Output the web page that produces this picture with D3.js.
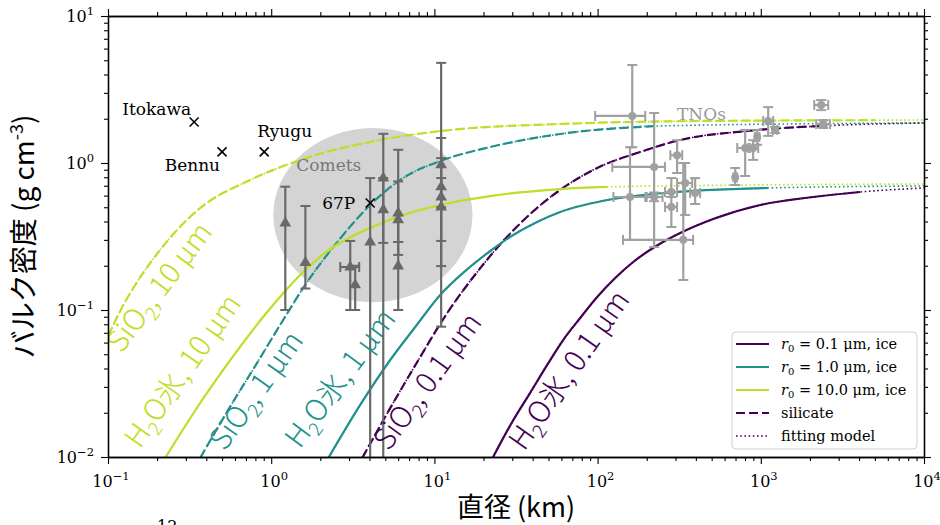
<!DOCTYPE html>
<html><head><meta charset="utf-8">
<script src="https://cdn.jsdelivr.net/npm/d3@7/dist/d3.min.js"></script>
<style>
body{margin:0;background:#fff;}
svg{display:block;}
text{font-family:"DejaVu Serif",serif;}
</style></head><body>
<svg id="chart" width="940" height="525"></svg>
<script>
// ================= DATA =================
const xTickValues = [0.1, 1, 10, 100, 1000, 10000];
const xTickExp    = ["−1", "0", "1", "2", "3", "4"];
const yTickValues = [0.01, 0.1, 1, 10];
const yTickExp    = ["−2", "−1", "0", "1"];

const grainSizes   = ["0.1", "1.0", "10.0"];
const seriesColors = ["#440154", "#21918c", "#bddf26"];

// model curves: [diameter km, bulk density g cm^-3]
const ice01 = [[22.9,0.0100],[29.97,0.0173],[38.6,0.0273],[49.1,0.0423],[61.5,0.0625],[78.2,0.0882],[99.4,0.1226],[128.2,0.1651],[165.2,0.2121],[228.6,0.2725],[320.7,0.334],[510.8,0.416],[991.5,0.518],[2095,0.587],[4065,0.635],[10000,0.676]];
const ice1  = [[2.24,0.00984],[3.51,0.0226],[5.36,0.0457],[7.63,0.0766],[10.85,0.1265],[15.44,0.184],[22.0,0.252],[30.4,0.3237],[42.6,0.397],[59.0,0.464],[124.7,0.569],[252,0.625],[1110,0.676],[10000,0.698]];
const ice10 = [[0.224,0.00984],[0.367,0.0233],[0.585,0.0486],[0.945,0.0969],[1.505,0.173],[2.30,0.260],[4.04,0.361],[6.17,0.436],[10.85,0.518],[22.0,0.596],[59.0,0.665],[114.5,0.687],[425,0.703],[10000,0.72]];
const sil01 = [[3.61,0.00984],[5.36,0.0215],[7.85,0.0443],[11.65,0.0910],[18.3,0.1814],[26.4,0.2946],[38.6,0.4497],[56.6,0.635],[99.4,0.925],[182.4,1.188],[320.7,1.434],[825,1.651],[2312,1.785],[10000,1.872]];
const sil1  = [[0.367,0.00984],[0.545,0.0209],[0.798,0.0416],[1.184,0.0855],[1.615,0.148],[2.54,0.290],[4.04,0.518],[6.44,0.791],[11.32,1.048],[22.0,1.285],[59.0,1.575],[232,1.785],[10000,1.872]];
const sil10 = [[0.1003,0.0665],[0.1188,0.0985],[0.1468,0.148],[0.1814,0.2088],[0.2581,0.3394],[0.3672,0.494],[0.7436,0.766],[1.505,1.048],[4.655,1.434],[12.5,1.677],[59.0,1.842],[425,1.931],[5000,1.955],[10000,1.961]];
const iceModelEnd = [4065, 1110, 114.5];   // where the computed curve stops, fitting model continues
const silModelEnd = [2312, 232, 5000];

// comets
const cometD   = [1.22, 1.62, 3.05, 3.27, 4.04, 4.86, 4.86, 6.0, 6.0, 6.0, 11.0, 11.0, 11.0, 11.0];
const cometRho = [0.39, 0.21, 0.196, 0.148, 0.29, 0.79, 0.48, 0.457, 0.41, 0.199, 0.97, 0.687, 0.587, 0.502];
const cometLo  = [0.10, 0.14, 0.10, 0.10, 0.005, 0.286, 0.005, 0.29, 0.237, 0.10, 0.50, 0.295, 0.199, 0.077];
const cometHi  = [0.69, 0.51, 0.295, 0.20, 0.79, 1.58, 0.79, 1.23, 0.75, 0.29, 4.8, 1.48, 1.08, 0.79];
const cometDLo = [null, null, 2.65, null, null, null, null, null, null, null, null, null, null, null];
const cometDHi = [null, null, 3.46, null, null, null, null, null, null, null, null, null, null, null];
const cometRegionD   = [1.03, 17.1];
const cometRegionRho = [0.113, 1.73];
const comet67P = [4.04, 0.534];

// TNOs
const tnoD   = [163, 158, 222, 222, 307, 283, 283, 344, 396, 335, 697, 802, 898, 950, 1110, 1225, 2345, 2410];
const tnoRho = [2.09, 0.587, 0.94, 0.587, 1.13, 0.635, 0.502, 0.731, 0.625, 0.30, 0.80, 1.265, 1.265, 1.50, 1.93, 1.68, 2.48, 1.84];
const tnoLo  = [1.28, 0.30, 0.268, 0.55, 0.855, 0.587, 0.367, 0.443, 0.526, 0.16, 0.708, 0.816, 1.05, 1.33, 1.53, 1.60, 2.29, 1.73];
const tnoHi  = [4.64, 1.28, 2.19, 0.63, 1.43, 0.79, 0.587, 1.0, 0.79, 1.0, 0.925, 1.68, 1.43, 1.68, 2.40, 1.76, 2.68, 1.96];
const tnoDLo = [96.6, 125, 123, 200, 279, 259, 259, 307, 369, 143, 680, 717, 837, 920, 1035, 1190, 2125, 2185];
const tnoDHi = [196, 196, 259, 250, 330, 307, 307, 380, 425, 385, 715, 861, 964, 980, 1191, 1260, 2589, 2652];

// asteroids
const asteroidNames = ["Itokawa", "Bennu", "Ryugu"];
const asteroidD     = [0.337, 0.50, 0.906];
const asteroidRho   = [1.90, 1.19, 1.19];

// ================= LAYOUT =================
const M = {left:108, right:924, top:16, bottom:457};
const svg = d3.select("#chart");
const x = d3.scaleLog().domain([0.1, 1e4]).range([M.left, M.right]);
const y = d3.scaleLog().domain([0.01, 10]).range([M.bottom, M.top]);

svg.append("defs").append("clipPath").attr("id","plotclip")
  .append("rect").attr("x",M.left).attr("y",M.top)
  .attr("width",M.right-M.left).attr("height",M.bottom-M.top);

const plot = svg.append("g").attr("clip-path","url(#plotclip)");

// comet region
plot.append("ellipse")
  .attr("cx",(x(cometRegionD[0])+x(cometRegionD[1]))/2)
  .attr("cy",(y(cometRegionRho[0])+y(cometRegionRho[1]))/2)
  .attr("rx",(x(cometRegionD[1])-x(cometRegionD[0]))/2)
  .attr("ry",(y(cometRegionRho[0])-y(cometRegionRho[1]))/2)
  .attr("fill","#d4d4d4");

const line = d3.line().x(d=>x(d[0])).y(d=>y(d[1])).curve(d3.curveMonotoneX);
const iceSeries = [ice01, ice1, ice10];
const silSeries = [sil01, sil1, sil10];

// fitting-model dotted (full range underneath)
[...iceSeries, ...silSeries].forEach((s,i)=>{
  plot.append("path").attr("d",line(s)).attr("fill","none")
    .attr("stroke",seriesColors[i%3]).attr("stroke-width",1.6)
    .attr("stroke-dasharray","1.6,2.6");
});
// silicate dashed
silSeries.forEach((s,i)=>{
  plot.append("path").attr("d",line(s.filter(p=>p[0]<=silModelEnd[i]))).attr("fill","none")
    .attr("stroke",seriesColors[i]).attr("stroke-width",2.2)
    .attr("stroke-dasharray","9,4");
});
// ice solid
iceSeries.forEach((s,i)=>{
  plot.append("path").attr("d",line(s.filter(p=>p[0]<=iceModelEnd[i]))).attr("fill","none")
    .attr("stroke",seriesColors[i]).attr("stroke-width",2.2);
});

// comets
const cometColor = "#696969";
const cg = plot.append("g");
cometD.forEach((D,i)=>{
  const cx = x(D), cy = y(cometRho[i]);
  const yl = y(Math.max(cometLo[i],0.004)), yh = y(cometHi[i]);
  cg.append("line").attr("x1",cx).attr("x2",cx).attr("y1",yl).attr("y2",yh)
    .attr("stroke",cometColor).attr("stroke-width",2.2);
  [cometLo[i], cometHi[i]].forEach(v=>{
    if (v >= 0.01) cg.append("line").attr("x1",cx-5).attr("x2",cx+5).attr("y1",y(v)).attr("y2",y(v))
      .attr("stroke",cometColor).attr("stroke-width",2);
  });
  if (cometDLo[i] !== null) {
    cg.append("line").attr("x1",x(cometDLo[i])).attr("x2",x(cometDHi[i])).attr("y1",cy).attr("y2",cy)
      .attr("stroke",cometColor).attr("stroke-width",2.2);
    [cometDLo[i], cometDHi[i]].forEach(v=>{
      cg.append("line").attr("x1",x(v)).attr("x2",x(v)).attr("y1",cy-5).attr("y2",cy+5)
        .attr("stroke",cometColor).attr("stroke-width",2);
    });
  }
});
cometD.forEach((D,i)=>{
  cg.append("path").attr("d",d3.symbol(d3.symbolTriangle).size(60)())
    .attr("transform",`translate(${x(D)},${y(cometRho[i])})`).attr("fill",cometColor);
});

// TNOs
const tnoColor = "#a0a0a0";
const tg = plot.append("g");
tnoD.forEach((D,i)=>{
  const cx = x(D), cy = y(tnoRho[i]);
  tg.append("line").attr("x1",cx).attr("x2",cx).attr("y1",y(tnoLo[i])).attr("y2",y(tnoHi[i]))
    .attr("stroke",tnoColor).attr("stroke-width",2.2);
  tg.append("line").attr("x1",x(tnoDLo[i])).attr("x2",x(tnoDHi[i])).attr("y1",cy).attr("y2",cy)
    .attr("stroke",tnoColor).attr("stroke-width",2.2);
  [tnoLo[i], tnoHi[i]].forEach(v=>{
    tg.append("line").attr("x1",cx-5).attr("x2",cx+5).attr("y1",y(v)).attr("y2",y(v))
      .attr("stroke",tnoColor).attr("stroke-width",2);
  });
  [tnoDLo[i], tnoDHi[i]].forEach(v=>{
    tg.append("line").attr("x1",x(v)).attr("x2",x(v)).attr("y1",cy-5).attr("y2",cy+5)
      .attr("stroke",tnoColor).attr("stroke-width",2);
  });
});
tnoD.forEach((D,i)=>{
  tg.append("circle").attr("cx",x(D)).attr("cy",y(tnoRho[i])).attr("r",4).attr("fill",tnoColor);
});

// asteroid & 67P crosses
function cross(g, D, rho){
  const cx = x(D), cy = y(rho), s = 4.5;
  g.append("path").attr("d",`M${cx-s},${cy-s}L${cx+s},${cy+s}M${cx-s},${cy+s}L${cx+s},${cy-s}`)
    .attr("stroke","#000").attr("stroke-width",1.6).attr("fill","none");
}
asteroidD.forEach((D,i)=>cross(plot, D, asteroidRho[i]));
cross(plot, comet67P[0], comet67P[1]);

// text annotations
const ann = svg.append("g").attr("font-size",17);
const astOffsets = [[-3,-7,"end"],[-2,19,"end"],[-7,-15,"start"]];
asteroidNames.forEach((n,i)=>{
  ann.append("text").attr("x",x(asteroidD[i])+astOffsets[i][0]).attr("y",y(asteroidRho[i])+astOffsets[i][1])
    .attr("text-anchor",astOffsets[i][2]).attr("fill","#000").text(n);
});
ann.append("text").attr("x",x(comet67P[0])-48).attr("y",y(comet67P[1])+6).attr("fill","#000").text("67P");
ann.append("text").attr("x",x(cometRegionD[0])+23).attr("y",171).attr("fill","#777").text("Comets");
ann.append("text").attr("x",677).attr("y",120).attr("fill","#999").text("TNOs");

// rotated curve labels
const curveLabels = [
  {parts:["SiO","2",", 10 μm"], c:2, D:0.121, rho:0.050, a:-53},
  {parts:["H","2","O氷, 10 μm"], c:2, D:0.157, rho:0.0112, a:-55},
  {parts:["SiO","2",", 1 μm"], c:1, D:0.52, rho:0.0108, a:-54.5},
  {parts:["H","2","O氷, 1 μm"], c:1, D:1.50, rho:0.0112, a:-53.5},
  {parts:["SiO","2",", 0.1 μm"], c:0, D:5.25, rho:0.0108, a:-54},
  {parts:["H","2","O氷, 0.1 μm"], c:0, D:35.5, rho:0.0108, a:-55}
];
curveLabels.forEach(l=>{
  const t = svg.append("text")
    .attr("transform",`translate(${x(l.D)},${y(l.rho)}) rotate(${l.a})`)
    .attr("fill",seriesColors[l.c]).attr("font-size",29.5)
    .style("font-family","'Noto Sans CJK JP','Noto Sans',sans-serif").style("font-weight",300);
  t.append("tspan").text(l.parts[0]);
  t.append("tspan").attr("font-size",19).attr("dy",7).text(l.parts[1]);
  t.append("tspan").attr("dy",-7).text(l.parts[2]);
});

// ================= AXES =================
const minorX = [], minorY = [];
for (let e=-1;e<4;e++) for (let m=2;m<10;m++) minorX.push(m*Math.pow(10,e));
for (let e=-2;e<1;e++) for (let m=2;m<10;m++) minorY.push(m*Math.pow(10,e));

function styleAxis(g){
  g.selectAll(".domain").attr("stroke","#000").attr("stroke-width",1.3);
  g.selectAll(".tick line").attr("stroke","#000").attr("stroke-width",1.1);
  g.selectAll(".tick text").remove();
}
const axes = [
  [d3.axisBottom, `translate(0,${M.bottom})`, x, xTickValues, minorX],
  [d3.axisTop, `translate(0,${M.top})`, x, xTickValues, minorX],
  [d3.axisLeft, `translate(${M.left},0)`, y, yTickValues, minorY],
  [d3.axisRight, `translate(${M.right},0)`, y, yTickValues, minorY]
];
axes.forEach(([fn, tr, sc, maj, mino])=>{
  svg.append("g").attr("transform",tr).call(fn(sc).tickValues(mino).tickSize(4).tickSizeOuter(0).tickFormat("")).call(styleAxis);
  svg.append("g").attr("transform",tr).call(fn(sc).tickValues(maj).tickSize(7).tickSizeOuter(0).tickFormat("")).call(styleAxis);
});

function expLabel(xp, yp, exp, anchor){
  const t = svg.append("text").attr("x",xp).attr("y",yp).attr("text-anchor",anchor)
    .attr("font-size",16).attr("fill","#000");
  t.append("tspan").text("10");
  t.append("tspan").attr("dy",-7).attr("font-size",11.5).text(exp);
}
xTickValues.forEach((v,i)=>expLabel(x(v)+3, 487, xTickExp[i], "middle"));
yTickValues.forEach((v,i)=>expLabel(94, y(v)+6, yTickExp[i], "end"));

// axis titles
const yl = svg.append("text").attr("transform",`translate(34,${(M.top+M.bottom)/2}) rotate(-90)`)
  .attr("text-anchor","middle").attr("font-size",28)
  .style("font-family","'Noto Sans CJK JP',sans-serif");
yl.append("tspan").text("バルク密度 (g cm");
yl.append("tspan").attr("font-size",18).attr("dy",-11).text("-3");
yl.append("tspan").attr("dy",11).text(")");

svg.append("text").attr("x",(M.left+M.right)/2).attr("y",517).attr("text-anchor","middle")
  .attr("font-size",27).style("font-family","'Noto Sans CJK JP',sans-serif").text("直径 (km)");

svg.append("text").attr("x",157).attr("y",532).attr("font-size",16).attr("fill","#000").text("12");

// ================= LEGEND =================
const lg = svg.append("g");
lg.append("rect").attr("x",732).attr("y",332).attr("width",185).attr("height",117).attr("rx",4)
  .attr("fill","#fff").attr("fill-opacity",0.85).attr("stroke","#d0d0d0").attr("stroke-width",1);
const legendItems = [
  {color:seriesColors[0], dash:null, size:grainSizes[0]},
  {color:seriesColors[1], dash:null, size:grainSizes[1]},
  {color:seriesColors[2], dash:null, size:grainSizes[2]},
  {color:seriesColors[0], dash:"9,4", label:"silicate"},
  {color:seriesColors[0], dash:"1.6,2.6", label:"fitting model"}
];
legendItems.forEach((it,i)=>{
  const cy = 344 + i*23;
  lg.append("line").attr("x1",736).attr("x2",769).attr("y1",cy).attr("y2",cy)
    .attr("stroke",it.color).attr("stroke-width", i===4?1.6:2.2)
    .attr("stroke-dasharray",it.dash);
  const t = lg.append("text").attr("x",781).attr("y",cy+5).attr("font-size",14.5).attr("fill","#000");
  if (it.size){
    t.append("tspan").attr("font-style","italic").text("r");
    t.append("tspan").attr("font-size",10).attr("dy",3).text("0");
    t.append("tspan").attr("dy",-3).text(` = ${it.size} μm, ice`);
  } else t.text(it.label);
});
</script>
</body></html>
